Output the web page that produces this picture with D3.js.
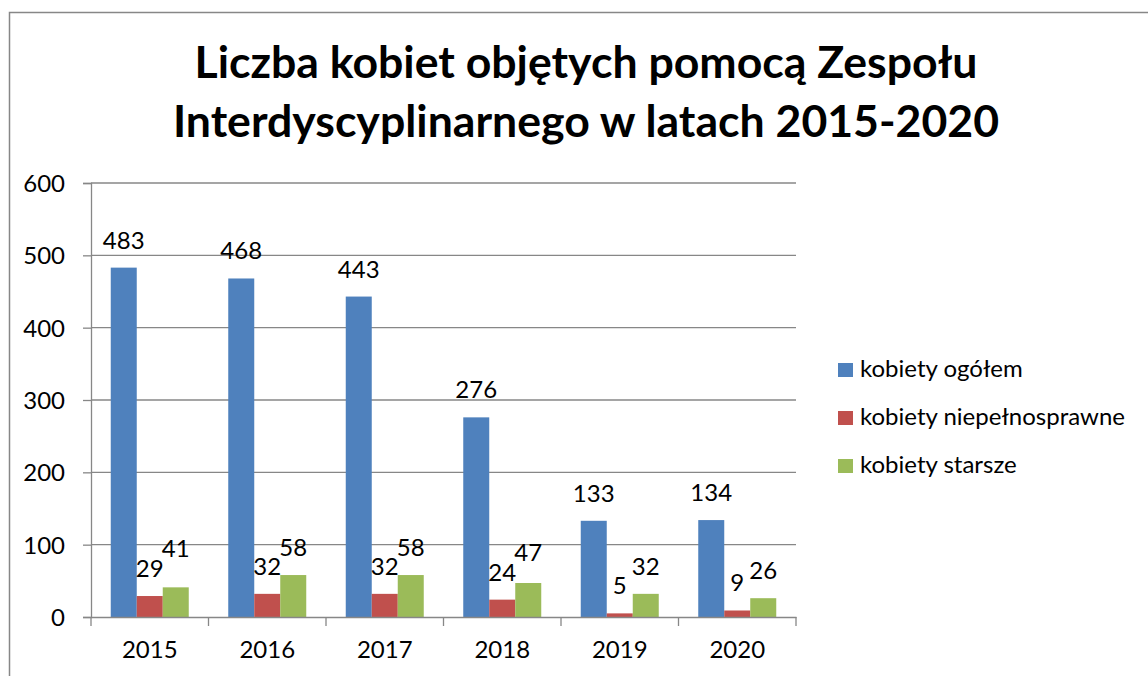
<!DOCTYPE html>
<html>
<head>
<meta charset="utf-8">
<script src="https://cdn.jsdelivr.net/npm/d3@7"></script>
<style>
  body { margin: 0; background: #fff; }
  text { font-family: Lato, "Open Sans", sans-serif; fill: #000; }
</style>
</head>
<body>
<svg id="chart"></svg>
<script>
// chart data
var years = ['2015', '2016', '2017', '2018', '2019', '2020'];
var seriesNames = ['kobiety ogółem', 'kobiety niepełnosprawne', 'kobiety starsze'];
var ogolem = [483, 468, 443, 276, 133, 134];
var niepelnosprawne = [29, 32, 32, 24, 5, 9];
var starsze = [41, 58, 58, 47, 32, 26];
var yTicks = [0, 100, 200, 300, 400, 500, 600];
var titleLines = ['Liczba kobiet objętych pomocą Zespołu', 'Interdyscyplinarnego w latach 2015-2020'];

var colors = ['#4F81BD', '#C0504D', '#9BBB59'];
var series = [ogolem, niepelnosprawne, starsze];

var width = 1148, height = 676;
var svg = d3.select('#chart').attr('width', width).attr('height', height);

// outer frame (only left and top visible)
svg.append('path')
  .attr('d', 'M9.5,' + height + ' V12.5 H' + width)
  .attr('fill', 'none')
  .attr('stroke', '#878787')
  .attr('stroke-width', 1.5);

// title
var title = svg.append('g');
titleLines.forEach(function(t, i) {
  title.append('text')
    .attr('x', 586)
    .attr('y', 78 + i * 59)
    .attr('text-anchor', 'middle')
    .style('font-size', '44.6px')
    .style('font-weight', 'bold')
    .text(t);
});

var plotL = 91, plotR = 796, plotT = 183, plotB = 617;

var x = d3.scaleBand().domain(years).range([plotL, plotR]);
var y = d3.scaleLinear().domain([0, 600]).range([plotB, plotT]);
var inner = d3.scaleBand().domain([0, 1, 2]).range([0, 78]);

// gridlines
svg.append('g')
  .selectAll('line')
  .data(yTicks.slice(1))
  .join('line')
  .attr('x1', plotL).attr('x2', plotR)
  .attr('y1', function(d) { return y(d); })
  .attr('y2', function(d) { return y(d); })
  .attr('stroke', '#878787')
  .attr('stroke-width', 1.3);

// y axis
var yAxis = svg.append('g')
  .attr('transform', 'translate(' + plotL + ',0)')
  .call(d3.axisLeft(y).tickValues(yTicks).tickSize(8).tickPadding(18));
yAxis.select('.domain').attr('stroke', '#878787').attr('stroke-width', 1.3);
yAxis.selectAll('.tick line').attr('stroke', '#878787').attr('stroke-width', 1.3);
yAxis.selectAll('text').style('font-size', '24px').attr('dy', '0.35em');

// bars
var groupOffset = (x.bandwidth() - 78) / 2;
series.forEach(function(vals, s) {
  svg.append('g')
    .selectAll('rect')
    .data(vals)
    .join('rect')
    .attr('x', function(d, i) { return x(years[i]) + groupOffset + inner(s); })
    .attr('y', function(d) { return y(d); })
    .attr('width', inner.bandwidth())
    .attr('height', function(d) { return plotB - y(d); })
    .attr('fill', colors[s]);
});

// x axis
var xAxis = svg.append('g')
  .attr('transform', 'translate(0,' + plotB + ')')
  .call(d3.axisBottom(x).tickSize(0).tickPadding(24));
xAxis.select('.domain').attr('stroke', '#878787').attr('stroke-width', 1.3);
xAxis.selectAll('text').style('font-size', '24px');
xAxis.selectAll('.bound')
  .data(d3.range(years.length + 1))
  .join('line')
  .attr('class', 'bound')
  .attr('x1', function(d) { return plotL + d * x.step(); })
  .attr('x2', function(d) { return plotL + d * x.step(); })
  .attr('y1', 0).attr('y2', 9)
  .attr('stroke', '#878787').attr('stroke-width', 1.3);

// data labels, shifted up when they collide with the label on their left
var labelG = svg.append('g');
years.forEach(function(yr, i) {
  var placed = [];
  series.forEach(function(vals, s) {
    var cx = x(yr) + groupOffset + inner(s) + inner.bandwidth() / 2;
    var base = y(vals[i]) - 19;
    var t = labelG.append('text')
      .attr('x', cx)
      .attr('text-anchor', 'middle')
      .style('font-size', '24px')
      .text(vals[i]);
    var w = t.node().getComputedTextLength();
    var box = { x0: cx - w / 2 - 1, x1: cx + w / 2 + 1, y0: base - 17, y1: base };
    placed.forEach(function(p) {
      if (box.x0 < p.x1 && box.x1 > p.x0 && box.y0 < p.y1 && box.y1 > p.y0) {
        base = p.y1 - 20;
        box.y0 = base - 17; box.y1 = base;
      }
    });
    t.attr('y', base);
    placed.push(box);
  });
});

// legend
var legend = svg.append('g');
seriesNames.forEach(function(name, s) {
  legend.append('rect')
    .attr('x', 838).attr('y', 363 + s * 48)
    .attr('width', 15).attr('height', 14)
    .attr('fill', colors[s]);
  legend.append('text')
    .attr('x', 860).attr('y', 377 + s * 48)
    .style('font-size', '24px')
    .text(name);
});
</script>
</body>
</html>
